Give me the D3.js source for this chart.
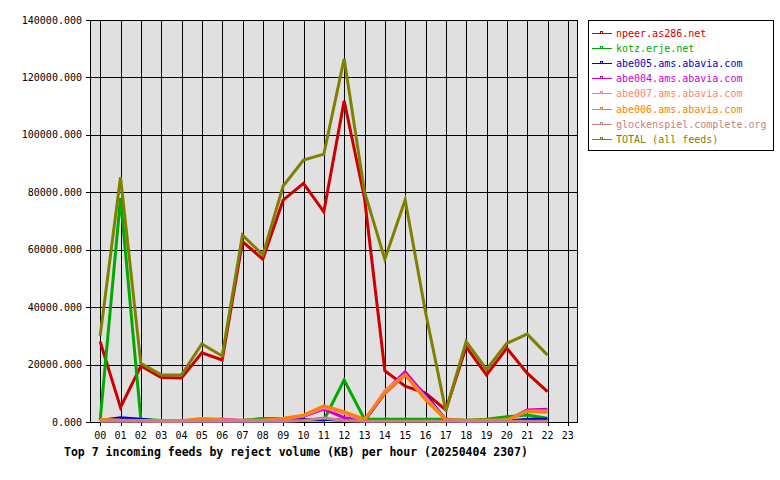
<!DOCTYPE html>
<html><head><meta charset="utf-8">
<script src="https://cdn.jsdelivr.net/npm/d3@7"></script>
<style>body{margin:0;background:#fff}svg{display:block}text{font-family:"DejaVu Sans Mono",monospace}</style>
</head><body><svg id="c" width="780" height="480"></svg>
<script>
const hours = ["00","01","02","03","04","05","06","07","08","09","10","11","12","13","14","15","16","17","18","19","20","21","22","23"];
const yTicks = [0,20000,40000,60000,80000,100000,120000,140000];
const feedNames = ["npeer.as286.net","kotz.erje.net","abe005.ams.abavia.com","abe004.ams.abavia.com","abe007.ams.abavia.com","abe006.ams.abavia.com","glockenspiel.complete.org","TOTAL (all feeds)"];
const feedColors = ["#cc0000","#00aa00","#0000cc","#cc00cc","#ff8080","#ff8000","#cc8080","#808000"];
const npeer   = [28000,5100,19500,15500,15300,24100,21600,62800,56700,77300,83100,73200,111900,78000,17900,12500,10100,4200,26200,16400,25700,17000,10600];
const kotz    = [600,78000,1000,500,400,400,400,600,1200,1200,800,600,14600,1000,1000,1000,1000,1000,600,1000,1800,2400,1300];
const abe005  = [500,1500,1000,300,300,300,300,300,300,300,800,1000,600,400,10000,16500,9500,800,300,300,300,1000,1000];
const abe004  = [500,500,500,300,300,1000,1000,500,500,800,2000,4500,1500,500,10500,17500,9000,800,300,500,500,4200,4400];
const abe007  = [600,600,500,400,400,1000,800,600,600,1000,2200,5000,3000,500,11000,16500,8500,800,500,500,600,3800,3800];
const abe006  = [1000,600,500,400,400,1200,600,500,600,1300,2400,5600,3600,1000,10000,16400,7700,800,600,700,800,3600,3400];
const glock   = [300,300,300,300,300,300,300,300,300,300,500,1400,500,300,300,300,300,300,300,300,300,300,300];
const total   = [30000,85300,20400,16400,16400,27200,23000,65100,58200,82200,91200,93300,126500,80200,56700,77300,38300,3800,28000,18300,27400,30600,23300];
const series = [npeer,kotz,abe005,abe004,abe007,abe006,glock,total];

const svg = d3.select("#c");
const L=90,R=578,T=20,B=422;
const x = d3.scaleLinear().domain([-0.5,23.5]).range([L,R]);
const y = d3.scaleLinear().domain([0,140000]).range([B,T]);

svg.append("rect").attr("x",L).attr("y",T).attr("width",R-L).attr("height",B-T).attr("fill","#e0e0e0");
// grid
svg.append("g").selectAll("line").data(hours).join("line")
  .attr("x1",(d,i)=>Math.round(x(i))+0.5).attr("x2",(d,i)=>Math.round(x(i))+0.5)
  .attr("y1",T).attr("y2",B+4).attr("stroke","#000").attr("stroke-width",1);
svg.append("g").selectAll("line").data(yTicks).join("line")
  .attr("y1",d=>Math.round(y(d))+0.5).attr("y2",d=>Math.round(y(d))+0.5)
  .attr("x1",L-4).attr("x2",R).attr("stroke","#000").attr("stroke-width",1);
// frame
svg.append("rect").attr("x",L+0.5).attr("y",T+0.5).attr("width",R-L-1).attr("height",B-T).attr("fill","none").attr("stroke","#000");

// axes labels
svg.append("g").selectAll("text").data(yTicks).join("text")
  .attr("x",82).attr("y",d=>y(d)+3.5).attr("text-anchor","end").attr("font-size",10).text(d=>d3.format(".3f")(d));
svg.append("g").selectAll("text").data(hours).join("text")
  .attr("x",(d,i)=>x(i)).attr("y",439).attr("text-anchor","middle").attr("font-size",10).text(d=>d);

// lines
const line = d3.line().x((d,i)=>x(i)).y(d=>y(d));
series.forEach((s,k)=>{
  svg.append("path").datum(s).attr("d",line).attr("fill","none")
    .attr("stroke",feedColors[k]).attr("stroke-width",3).attr("stroke-linejoin","miter");
});

// title
svg.append("text").attr("x",64).attr("y",456).attr("font-size",11.5).attr("font-weight","bold")
  .text("Top 7 incoming feeds by reject volume (KB) per hour (20250404 2307)");

// legend
const lg = svg.append("g").attr("shape-rendering","crispEdges");
lg.append("rect").attr("x",588.5).attr("y",20.5).attr("width",185).attr("height",130).attr("fill","#fff").attr("stroke","#000");
feedNames.forEach((n,k)=>{
  const yy = Math.round(33 + k*15.1);
  lg.append("rect").attr("x",592).attr("y",yy).attr("width",20).attr("height",1).attr("fill",feedColors[k]);
  lg.append("rect").attr("x",600).attr("y",yy-2).attr("width",3).attr("height",1).attr("fill",feedColors[k]);
  lg.append("rect").attr("x",600).attr("y",yy-2).attr("width",1).attr("height",2).attr("fill",feedColors[k]);
  lg.append("rect").attr("x",602).attr("y",yy-2).attr("width",1).attr("height",2).attr("fill",feedColors[k]);
  lg.append("text").attr("x",616).attr("y",yy+3.5).attr("font-size",10).attr("fill",feedColors[k]).text(n);
});
</script></body></html>
